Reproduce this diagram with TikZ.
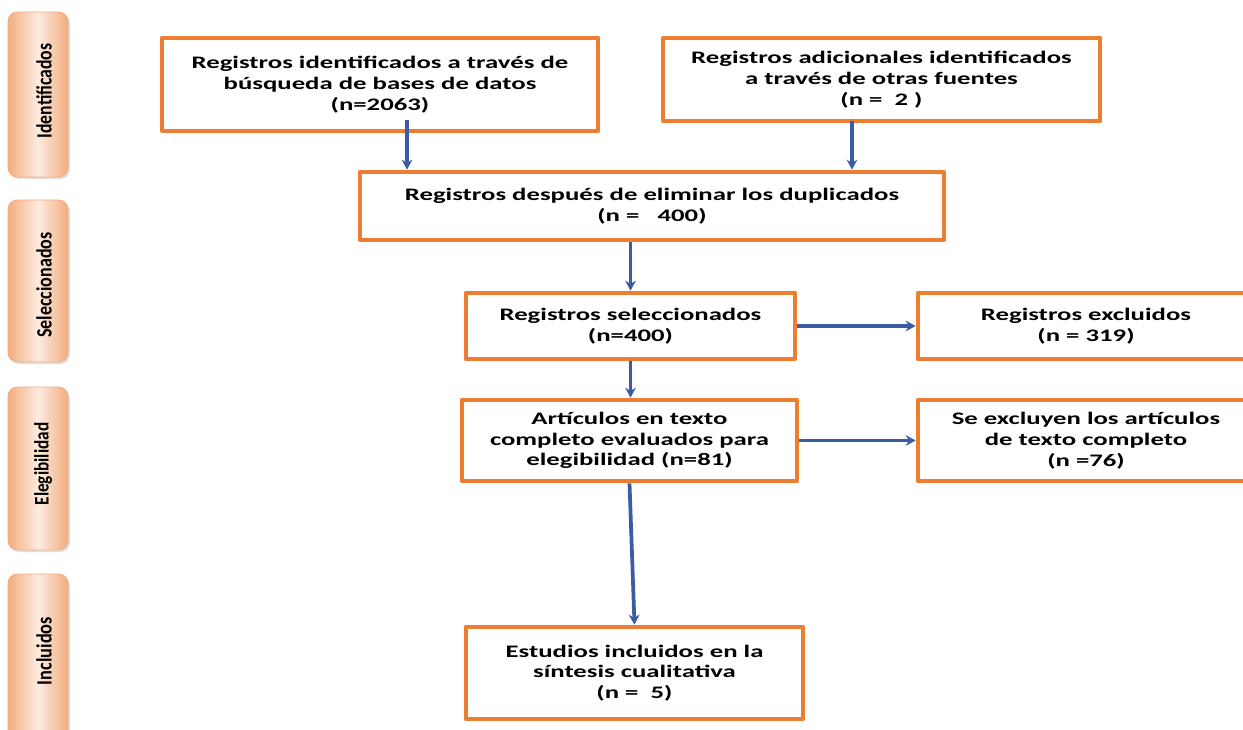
\documentclass[tikz,border=0pt]{standalone}
\usepackage{fontspec}
\setmainfont{Carlito}[FakeStretch=1.52]
\newfontfamily\lateralfont{Carlito}
\usetikzlibrary{arrows.meta,shadows}
\definecolor{naranja}{HTML}{ED7D31}
\definecolor{azul}{HTML}{3B5BA5}
\definecolor{durazno}{HTML}{F2AD7E}
\definecolor{duraznoclaro}{HTML}{FDEBE0}

\begin{document}
\begin{tikzpicture}[x=0.75pt, y=-0.75pt, >={Stealth[length=7.5pt,width=8pt]}, line join=round,
	caja/.style={draw=naranja, line width=3.5pt, fill=white, align=center, inner sep=0pt,
		font=\fontsize{13.2}{15.5}\selectfont\bfseries},
	flecha/.style={->, draw=azul, line width=2.8pt},
	lateral/.style={draw=durazno, line width=0.6pt, rounded corners=7pt, minimum width=45pt,
		left color=durazno, right color=durazno, middle color=duraznoclaro,
		drop shadow={opacity=0.25, shadow xshift=1.5pt, shadow yshift=-1.5pt}},
	etiqueta/.style={rotate=90, inner sep=0pt, font=\lateralfont\bfseries}]
	\clip (0,0) rectangle (1243,729);
	% franjas laterales
	\node[lateral, minimum height=123.75pt] (s1) at (38,94.5) {};
	\node[lateral, minimum height=121.5pt] (s2) at (38,281) {};
	\node[lateral, minimum height=122.25pt] (s3) at (38,468.5) {};
	\node[lateral, minimum height=124.5pt] (s4) at (38,657) {};
	\node[etiqueta] (e1) at (44,91) {\resizebox{71pt}{11.5pt}{Identificados}};
	\node[etiqueta] (e2) at (44,285) {\resizebox{79pt}{11.5pt}{Seleccionados}};
	\node[etiqueta] (e3) at (43,464) {\resizebox*{62pt}{13.5pt}{Elegibilidad}};
	\node[etiqueta] (e4) at (44,651) {\resizebox{51pt}{11.5pt}{Incluidos}};
	% cajas
	\node[caja, minimum width=327pt, minimum height=69.75pt] (b1) at (380,84.5)
		{Registros identificados a través de\\búsqueda de bases de datos\\(n=2063)};
	\node[caja, minimum width=327.75pt, minimum height=62.25pt] (b2) at (881.5,79.5)
		{Registros adicionales identificados\\a través de otras fuentes\\(n =\ \ 2 )};
	\node[caja, minimum width=438pt, minimum height=51pt] (b3) at (652,206)
		{Registros después de eliminar los duplicados\\(n =\ \ \ 400)};
	\node[caja, minimum width=246.75pt, minimum height=49.5pt] (b4) at (630.5,326)
		{Registros seleccionados\\(n=400)};
	\node[caja, minimum width=252pt, minimum height=49.5pt] (b5) at (1086,326)
		{Registros excluidos\\(n = 319)};
	\node[caja, minimum width=251.25pt, minimum height=60.75pt] (b6) at (629.5,440.5)
		{Artículos en texto\\completo evaluados para\\elegibilidad (n=81)};
	\node[caja, minimum width=252pt, minimum height=60.75pt] (b7) at (1086,440.5)
		{Se excluyen los artículos\\de texto completo\\(n =76)};
	\node[caja, minimum width=252.75pt, minimum height=69pt] (b8) at (634.5,673)
		{Estudios incluidos en la\\síntesis cualitativa\\(n =\ \ 5)};
	% flechas
	\coordinate (p1) at (407,120);
	\coordinate (p2) at (852,121);
	\draw[flecha] (p1) -- (p1 |- b3.north);
	\draw[flecha] (p2) -- (p2 |- b3.north);
	\draw[flecha] (b3.south -| b4.north) -- (b4.north);
	\draw[flecha] (b4.east) -- (b5.west);
	\draw[flecha] (b4.south) -- (b4.south |- b6.north);
	\draw[flecha] (b6.east) -- (b7.west);
	\draw[flecha] (b6.south) -- (b8.north);
\end{tikzpicture}
\end{document}
